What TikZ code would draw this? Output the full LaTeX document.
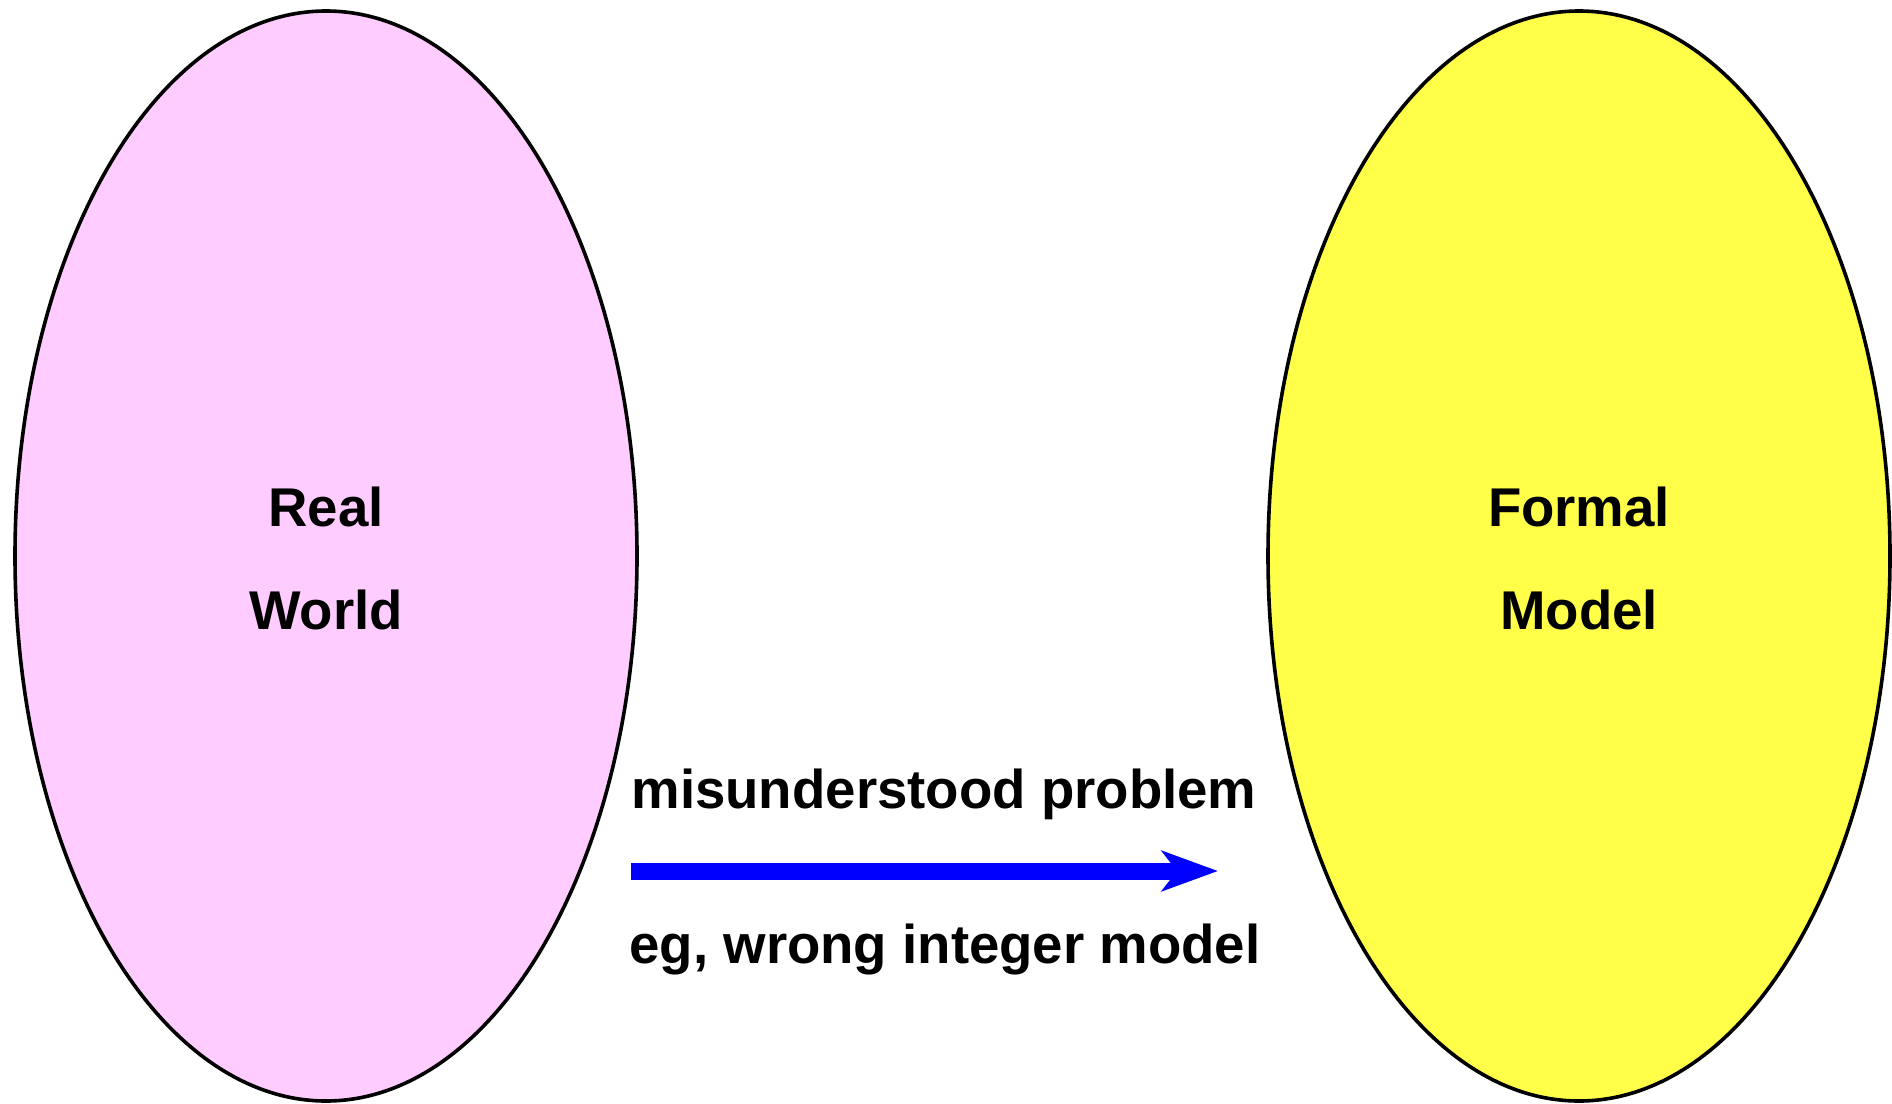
\documentclass[tikz,border=0pt]{standalone}
\usepackage{fontspec}
\setmainfont{Liberation Sans}
\usetikzlibrary{shapes.geometric,arrows.meta}
\definecolor{pinkfill}{HTML}{FFCCFF}
\definecolor{yellowfill}{HTML}{FFFF4A}
\definecolor{arrowblue}{HTML}{0000FF}
\tikzset{
  blob/.style={ellipse, draw=black, line width=3.6pt, minimum width=622pt, minimum height=1090pt, inner sep=0pt},
  lbl/.style={font=\fontsize{54.6}{60}\selectfont\bfseries, anchor=base, inner sep=0pt},
  bigarrow/.style={draw=arrowblue, line width=17pt, -{Stealth[length=56pt, width=40pt, inset=15pt, fill=arrowblue]}}
}
\begin{document}
\begin{tikzpicture}[x=1pt,y=-1pt]
\useasboundingbox[fill=white] (0,0) rectangle (1892,1103);
\node[blob, fill=pinkfill] (real) at (326,556) {};
\node[blob, fill=yellowfill] (formal) at (1579,556) {};
\node[lbl] (realt) at (326,526) {Real};
\node[lbl] (worldt) at (326,629) {World};
\node[lbl] (formalt) at (1579,526) {Formal};
\node[lbl] (modelt) at (1579,629) {Model};
\coordinate (a1) at (631,871);
\coordinate (a2) at (1218,871);
\draw[bigarrow] (a1) -- (a2);
\node[lbl] (top) at (944,808) {misunderstood problem};
\node[lbl] (bot) at (945,963) {eg, wrong integer model};
\end{tikzpicture}
\end{document}
